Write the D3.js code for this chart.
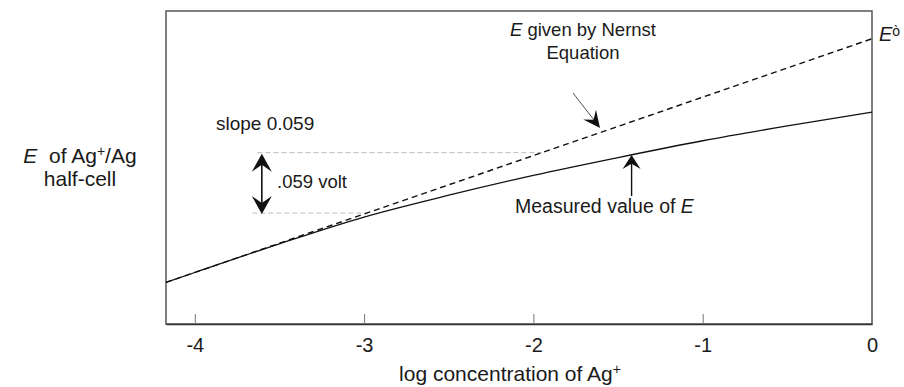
<!DOCTYPE html>
<html><head><meta charset="utf-8">
<script src="https://cdn.jsdelivr.net/npm/d3@7"></script>
<style>
body{margin:0;background:#fff}
text{font-family:"Liberation Sans",Arial,Helvetica,sans-serif;fill:#1a1a1a}
</style></head>
<body><svg id="c" width="904" height="387"></svg>
<script>
// ---- data ----
const xTicks = [-4, -3, -2, -1, 0];
const xTickLabels = ["-4", "-3", "-2", "-1", "0"];
const logConc = [-4.17, -4, -3.5, -3, -2.5, -2, -1.5, -1, -0.5, 0];
const measuredE = [0.554, 0.564, 0.593, 0.620, 0.642, 0.662, 0.680, 0.697, 0.712, 0.726];
const nernstLogConc = [-4.17, 0];
const nernstE = [0.554, 0.800];
const refLevels = [0.685, 0.624];          // the ".059 volt" bracket levels
const refStartX = [-3.63, -3.66];
const refEndX = [-1.95, -2.98];
const bracketX = -3.604;
const measuredArrowX = -1.42;

// ---- layout ----
const svg = d3.select("#c");
const x = d3.scaleLinear().domain([-4.17, 0]).range([166, 872]);
const y = d3.scaleLinear().domain([0.512, 0.828]).range([324, 11]);

// frame
svg.append("rect").attr("x", 166).attr("y", 11).attr("width", 706).attr("height", 313)
  .attr("fill", "none").attr("stroke", "#555").attr("stroke-width", 1.5);

// x axis ticks (inward)
const xAxis = d3.axisBottom(x).tickValues(xTicks).tickFormat((d, i) => xTickLabels[i])
  .tickSizeInner(-10).tickSizeOuter(0).tickPadding(14);
const gx = svg.append("g").attr("transform", "translate(0,324)").call(xAxis);
gx.select(".domain").attr("stroke", "#333").attr("stroke-width", 1.5);
gx.selectAll(".tick line").attr("stroke", "#777").attr("stroke-width", 1);
gx.selectAll(".tick text").attr("font-size", 20).attr("fill", "#1a1a1a")
  .style("font-family", "'Liberation Sans', Arial, sans-serif");

// reference dashed gray lines
refLevels.forEach((v, i) => {
  svg.append("line").attr("x1", x(refStartX[i])).attr("x2", x(refEndX[i]))
    .attr("y1", y(v)).attr("y2", y(v))
    .attr("stroke", "#bbb").attr("stroke-width", 1).attr("stroke-dasharray", "5,3");
});

// lines
const line = d3.line().x(d => x(d[0])).y(d => y(d[1]));
svg.append("path").datum(nernstLogConc.map((d, i) => [d, nernstE[i]]))
  .attr("d", line).attr("fill", "none").attr("stroke", "#111")
  .attr("stroke-width", 1.4).attr("stroke-dasharray", "6,4");
svg.append("path").datum(logConc.map((d, i) => [d, measuredE[i]]))
  .attr("d", line.curve(d3.curveMonotoneX)).attr("fill", "none").attr("stroke", "#111")
  .attr("stroke-width", 1.3);

// arrowhead helper: tip at (tx,ty), pointing in direction angle (radians)
function head(tx, ty, ang, len, w) {
  const c = Math.cos(ang), s = Math.sin(ang);
  const pt = (a, b) => [tx + a * c - b * s, ty + a * s + b * c];
  const p = [pt(0, 0), pt(-len, -w / 2), pt(-len * 0.62, 0), pt(-len, w / 2)];
  svg.append("path").attr("d", "M" + p.map(q => q.join(",")).join("L") + "Z").attr("fill", "#111");
}

// double arrow
const bx = x(bracketX);
svg.append("line").attr("x1", bx).attr("x2", bx).attr("y1", y(refLevels[0]) + 8).attr("y2", y(refLevels[1]) - 8)
  .attr("stroke", "#111").attr("stroke-width", 1.6);
head(bx, y(refLevels[0]) + 1, -Math.PI / 2, 18, 20);
head(bx, y(refLevels[1]) + 1, Math.PI / 2, 18, 20);

// measured arrow
const mx = x(measuredArrowX);
svg.append("line").attr("x1", mx).attr("x2", mx).attr("y1", 196).attr("y2", 162)
  .attr("stroke", "#111").attr("stroke-width", 1.4);
head(mx, 155, -Math.PI / 2, 14, 18);

// Nernst arrow
svg.append("line").attr("x1", 573).attr("y1", 93).attr("x2", 594).attr("y2", 120)
  .attr("stroke", "#222").attr("stroke-width", 0.8);
head(600, 128, Math.atan2(35, 27), 17, 16);

// texts
svg.append("text").attr("x", 216).attr("y", 130).attr("font-size", 19).text("slope 0.059");
svg.append("text").attr("x", 277).attr("y", 188).attr("font-size", 18.5).text(".059 volt");
const t1 = svg.append("text").attr("x", 583).attr("y", 36).attr("font-size", 18.5).attr("text-anchor", "middle");
t1.append("tspan").attr("font-style", "italic").text("E");
t1.append("tspan").text(" given by Nernst");
svg.append("text").attr("x", 583).attr("y", 59).attr("font-size", 18.5).attr("text-anchor", "middle").text("Equation");
const t2 = svg.append("text").attr("x", 515).attr("y", 213).attr("font-size", 19.5);
t2.append("tspan").text("Measured value of ");
t2.append("tspan").attr("font-style", "italic").text("E");
const t3 = svg.append("text").attr("x", 879).attr("y", 41).attr("font-size", 20);
t3.append("tspan").attr("font-style", "italic").text("E");
t3.append("tspan").attr("font-size", 14).attr("dy", -5).text("ò");

// y label
const yl = svg.append("text").attr("x", 80).attr("y", 163).attr("font-size", 21).attr("text-anchor", "middle");
yl.append("tspan").attr("font-style", "italic").text("E");
yl.append("tspan").text("\u00a0 of Ag");
yl.append("tspan").attr("font-size", 14).attr("dy", -7).text("+");
yl.append("tspan").attr("dy", 7).text("/Ag");
svg.append("text").attr("x", 80).attr("y", 186).attr("font-size", 21).attr("text-anchor", "middle").text("half-cell");

// x title
const xt = svg.append("text").attr("x", 510).attr("y", 381).attr("font-size", 21).attr("text-anchor", "middle");
xt.append("tspan").text("log concentration of Ag");
xt.append("tspan").attr("font-size", 14).attr("dy", -7).text("+");
</script></body></html>
